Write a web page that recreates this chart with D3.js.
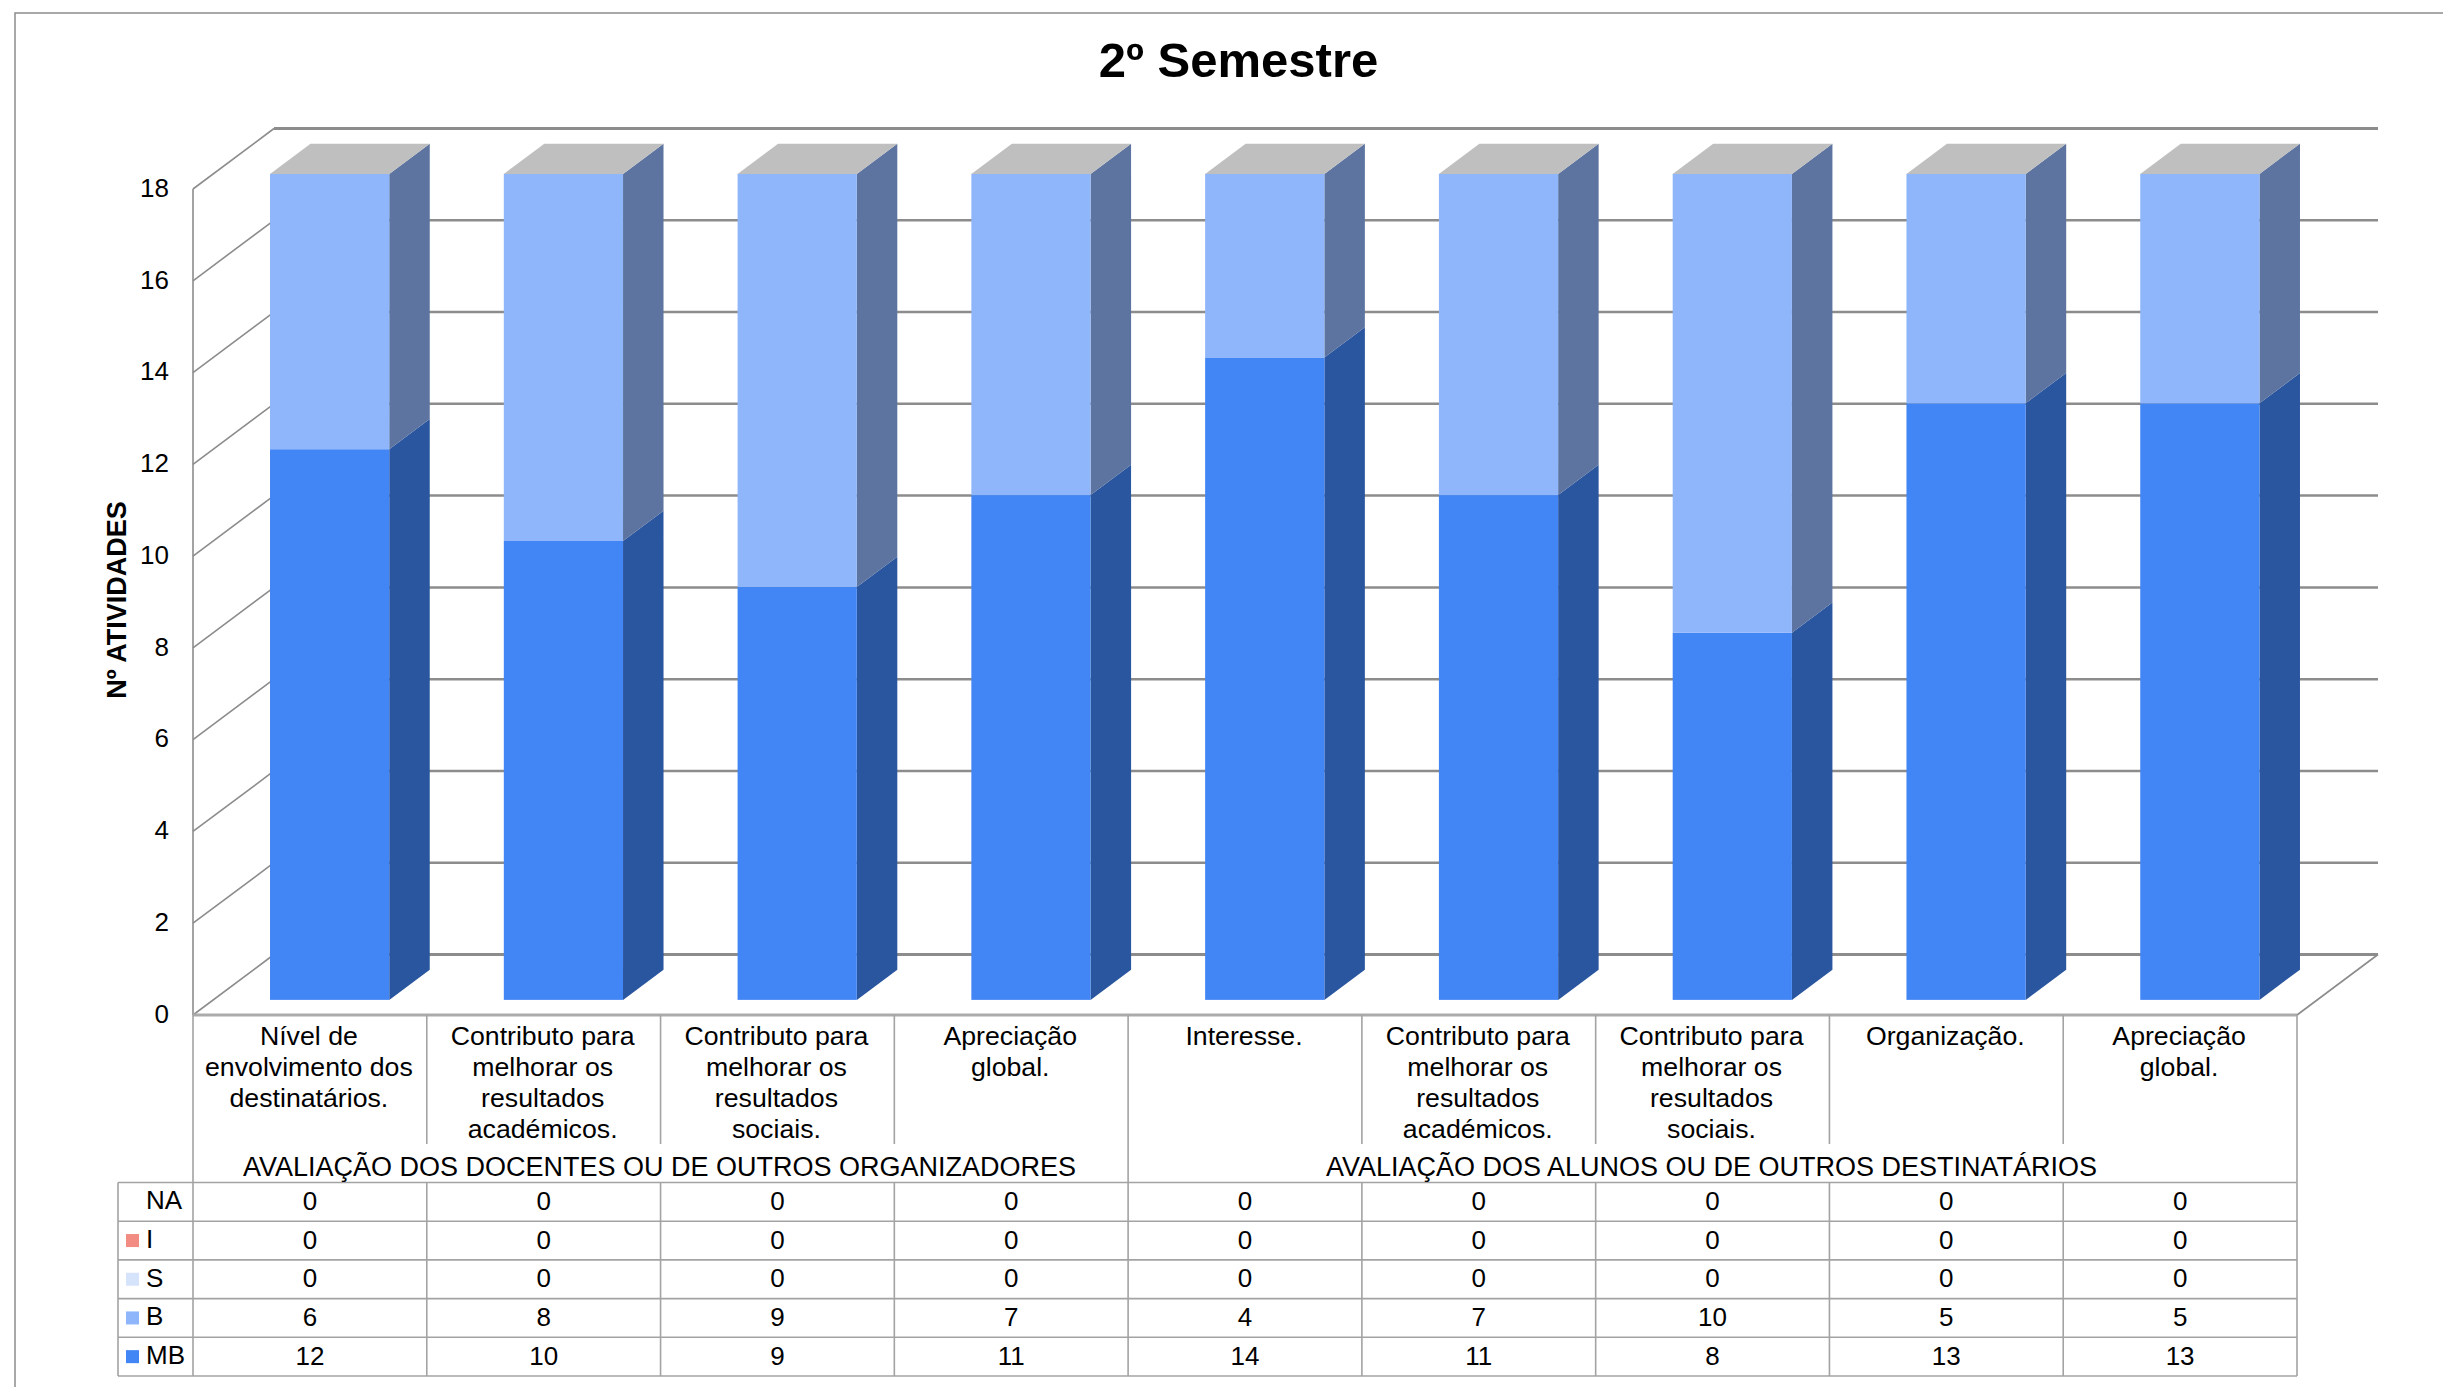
<!DOCTYPE html>
<html>
<head>
<meta charset="utf-8">
<script src="https://cdn.jsdelivr.net/npm/d3@7"></script>
<style>
  html, body { margin: 0; padding: 0; background: #fff; }
  svg { display: block; }
  text { font-family: "Liberation Sans", Arial, sans-serif; fill: #000; }
</style>
</head>
<body>
<div id="chart"></div>
<script>
const chartTitle = "2º Semestre";
const yLabel = "Nº ATIVIDADES";
const categories = [
  "Nível de|envolvimento dos|destinatários.",
  "Contributo para|melhorar os|resultados|académicos.",
  "Contributo para|melhorar os|resultados|sociais.",
  "Apreciação|global.",
  "Interesse.",
  "Contributo para|melhorar os|resultados|académicos.",
  "Contributo para|melhorar os|resultados|sociais.",
  "Organização.",
  "Apreciação|global."
];
const groupLabels = [
  "AVALIAÇÃO DOS DOCENTES OU DE OUTROS ORGANIZADORES",
  "AVALIAÇÃO DOS ALUNOS OU DE OUTROS DESTINATÁRIOS"
];
const groupSizes = [4, 5];
const yTicks = [0, 2, 4, 6, 8, 10, 12, 14, 16, 18];

const seriesNames = ["MB", "B", "S", "I", "NA"];
const mbValues = [12, 10, 9, 11, 14, 11, 8, 13, 13];
const bValues = [6, 8, 9, 7, 4, 7, 10, 5, 5];
const sValues = [0, 0, 0, 0, 0, 0, 0, 0, 0];
const iValues = [0, 0, 0, 0, 0, 0, 0, 0, 0];
const naValues = [0, 0, 0, 0, 0, 0, 0, 0, 0];
const seriesValues = [mbValues, bValues, sValues, iValues, naValues];

const frontColors = { MB: "#4285f4", B: "#8fb5fa", S: "#d6e4fb", I: "#f28b82" };
const sideColors = { MB: "#2a559f", B: "#5c749f", S: "#8b95a3", I: "#9d5a54" };
const topColor = "#bfbfbf";
const lineColor = "#8c8c8c";
const tableColor = "#a3a3a3";

const width = 2443, height = 1387;
const left = 193, right = 2297, floorY = 1015, topY = 189;
const depthX = 81, depthY = -60.5;

const svg = d3.select("#chart").append("svg")
  .attr("width", width)
  .attr("height", height)
  .attr("viewBox", [0, 0, width, height]);

const x = d3.scaleBand().domain(d3.range(categories.length)).range([left, right]);
const y = d3.scaleLinear().domain([0, 18]).range([floorY, topY]);
const barWidth = x.bandwidth() * 0.51;

// offset a front plane point back into the 3d box
const px = (v, f) => v + depthX * f;
const py = (v, f) => v + depthY * f;
const poly = (pts) => pts.map((p) => p.join(",")).join(" ");

// page frame, runs off the right and the bottom
svg.append("path")
  .attr("d", `M15,${height}V13H${width}`)
  .attr("fill", "none")
  .attr("stroke", lineColor)
  .attr("stroke-width", 1.5);

svg.append("text")
  .attr("x", 1238.5)
  .attr("y", 60)
  .attr("text-anchor", "middle")
  .attr("dominant-baseline", "central")
  .attr("font-size", 49)
  .attr("font-weight", "bold")
  .text(chartTitle);

svg.append("text")
  .attr("transform", "translate(117,600) rotate(-90)")
  .attr("text-anchor", "middle")
  .attr("dominant-baseline", "central")
  .attr("font-size", 27)
  .attr("font-weight", "bold")
  .text(yLabel);

// walls and gridlines
const grid = svg.append("g").attr("fill", "none").attr("stroke", lineColor);

grid.selectAll(".back").data(yTicks).join("line")
  .attr("class", "back")
  .attr("x1", px(left, 1))
  .attr("x2", px(right, 1))
  .attr("y1", (d) => py(y(d), 1))
  .attr("y2", (d) => py(y(d), 1))
  .attr("stroke-width", (d) => (d === 18 || d === 0 ? 3 : 2.5));

grid.selectAll(".wall").data(yTicks).join("line")
  .attr("class", "wall")
  .attr("x1", left)
  .attr("x2", px(left, 1))
  .attr("y1", (d) => y(d))
  .attr("y2", (d) => py(y(d), 1))
  .attr("stroke-width", 1.6);

grid.append("line")
  .attr("x1", left).attr("x2", left)
  .attr("y1", y(18)).attr("y2", floorY)
  .attr("stroke-width", 1.6);

grid.append("line")
  .attr("x1", right).attr("x2", px(right, 1))
  .attr("y1", floorY).attr("y2", py(floorY, 1))
  .attr("stroke-width", 1.6);

// stacked 3d bars
const rows = categories.map((c, i) => {
  const row = { index: i };
  seriesNames.forEach((s, j) => { row[s] = seriesValues[j][i]; });
  return row;
});
const stacked = d3.stack().keys(seriesNames)(rows);

const barLeft = (i) => x(i) + (x.bandwidth() - barWidth) / 2 - 0.5;

stacked.forEach((layer) => {
  const name = layer.key;
  const g = svg.append("g").attr("class", "series-" + name);
  const visible = layer.filter((d) => d[1] > d[0]);

  g.selectAll(".side").data(visible).join("polygon")
    .attr("class", "side")
    .attr("fill", sideColors[name])
    .attr("points", (d) => {
      const xr = barLeft(d.data.index) + barWidth;
      return poly([
        [px(xr, 0.25), py(y(d[0]), 0.25)],
        [px(xr, 0.75), py(y(d[0]), 0.75)],
        [px(xr, 0.75), py(y(d[1]), 0.75)],
        [px(xr, 0.25), py(y(d[1]), 0.25)]
      ]);
    });

  g.selectAll(".front").data(visible).join("rect")
    .attr("class", "front")
    .attr("fill", frontColors[name])
    .attr("x", (d) => px(barLeft(d.data.index), 0.25))
    .attr("y", (d) => py(y(d[1]), 0.25))
    .attr("width", barWidth)
    .attr("height", (d) => y(d[0]) - y(d[1]));
});

// grey lid on top of each stack
const totals = rows.map((r) => d3.sum(seriesNames, (s) => r[s]));
svg.append("g").selectAll("polygon").data(totals).join("polygon")
  .attr("fill", topColor)
  .attr("points", (t, i) => {
    const xl = barLeft(i), xr = xl + barWidth;
    return poly([
      [px(xl, 0.25), py(y(t), 0.25)],
      [px(xr, 0.25), py(y(t), 0.25)],
      [px(xr, 0.75), py(y(t), 0.75)],
      [px(xl, 0.75), py(y(t), 0.75)]
    ]);
  });

// y axis labels
const yAxis = d3.axisLeft(y).tickValues(yTicks).tickSize(0).tickPadding(0);
const yAxisG = svg.append("g")
  .attr("transform", "translate(169,-1)")
  .call(yAxis);
yAxisG.select(".domain").remove();
yAxisG.selectAll("text").attr("font-size", 26).attr("font-family", null).attr("fill", "#000");

// category block under the floor
const tableTop = 1182.5, rowH = 38.7, tableLeft = 118;
const tableOrder = ["NA", "I", "S", "B", "MB"];
const table = svg.append("g").attr("stroke", tableColor).attr("stroke-width", 1.6);

table.append("line").attr("x1", left).attr("x2", right)
  .attr("y1", floorY).attr("y2", floorY).attr("stroke", "#ababab").attr("stroke-width", 3);

// dividers between categories stop above the group label, group edges go through
const groupEdges = [0];
groupSizes.forEach((n) => groupEdges.push(groupEdges[groupEdges.length - 1] + n));
d3.range(categories.length + 1).forEach((i) => {
  const xp = i === categories.length ? right : x(i);
  table.append("line")
    .attr("x1", xp).attr("x2", xp)
    .attr("y1", floorY)
    .attr("y2", groupEdges.includes(i) ? tableTop : 1144);
});

d3.range(tableOrder.length + 1).forEach((r) => {
  table.append("line")
    .attr("x1", tableLeft).attr("x2", right)
    .attr("y1", tableTop + r * rowH).attr("y2", tableTop + r * rowH);
});
table.append("line")
  .attr("x1", tableLeft).attr("x2", tableLeft)
  .attr("y1", tableTop).attr("y2", tableTop + 5 * rowH);
d3.range(categories.length + 1).forEach((i) => {
  const xp = i === categories.length ? right : x(i);
  table.append("line")
    .attr("x1", xp).attr("x2", xp)
    .attr("y1", tableTop).attr("y2", tableTop + 5 * rowH);
});

const catText = svg.append("g")
  .attr("font-size", 26.7)
  .attr("text-anchor", "middle");
categories.forEach((c, i) => {
  const t = catText.append("text").attr("dominant-baseline", "central");
  c.split("|").forEach((line, k) => {
    t.append("tspan")
      .attr("x", x(i) + x.bandwidth() / 2 - 1)
      .attr("y", 1036 + k * 31)
      .text(line);
  });
});

groupLabels.forEach((g, i) => {
  const a = x(groupEdges[i]);
  const b = groupEdges[i + 1] === categories.length ? right : x(groupEdges[i + 1]);
  svg.append("text")
    .attr("x", (a + b) / 2 - 1)
    .attr("y", 1167)
    .attr("text-anchor", "middle")
    .attr("dominant-baseline", "central")
    .attr("font-size", 27)
    .text(g);
});

tableOrder.forEach((name, r) => {
  const cy = tableTop + (r + 0.5) * rowH;
  svg.append("text")
    .attr("x", 146)
    .attr("y", cy - 1.5)
    .attr("dominant-baseline", "central")
    .attr("font-size", 26)
    .text(name);
  if (frontColors[name]) {
    svg.append("rect")
      .attr("x", 126).attr("y", cy - 6.5)
      .attr("width", 13).attr("height", 13)
      .attr("fill", frontColors[name]);
  }
  const vals = seriesValues[seriesNames.indexOf(name)];
  svg.append("g").selectAll("text").data(vals).join("text")
    .attr("x", (d, i) => x(i) + x.bandwidth() / 2)
    .attr("y", cy - 1)
    .attr("text-anchor", "middle")
    .attr("dominant-baseline", "central")
    .attr("font-size", 26)
    .text((d) => d);
});
</script>
</body>
</html>
